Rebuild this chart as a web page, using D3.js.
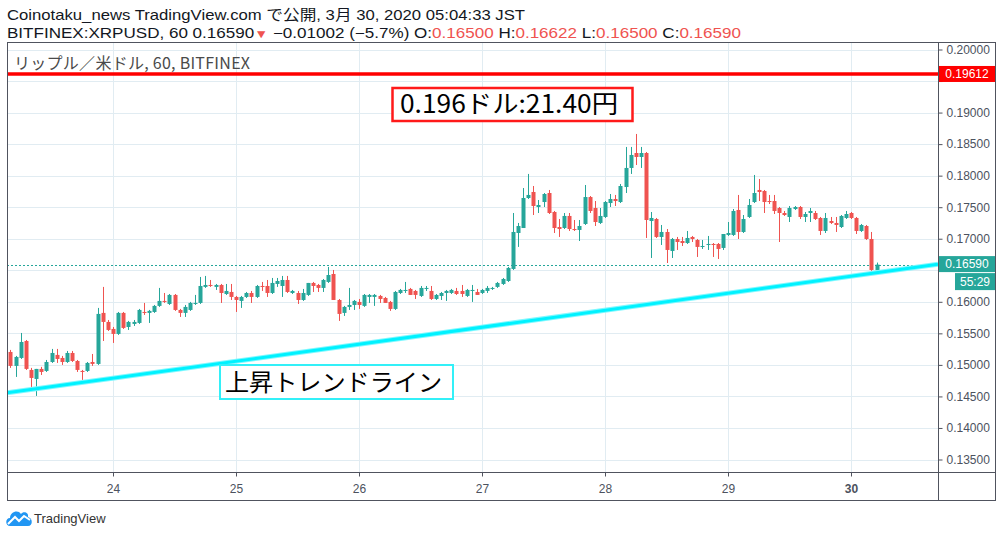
<!DOCTYPE html>
<html><head><meta charset="utf-8">
<script src="https://cdn.jsdelivr.net/npm/d3@7"></script>
<style>body{margin:0;background:#fff}svg{display:block}</style>
</head><body>
<svg id="c" width="1002" height="537"></svg>
<script>
// ---- DATA ----
const startTime = Date.UTC(2020, 2, 23, 4); // first hourly candle (JST shown as UTC)
const hour = 3600000;
const open = [0.15205,0.14984,0.15110,0.15379,0.14920,0.14777,0.14936,0.14904,0.15046,0.15158,
0.15110,0.15046,0.15189,0.15062,0.14904,0.14904,0.15046,0.15015,0.15824,0.15681,
0.15570,0.15491,0.15824,0.15601,0.15649,0.15665,0.15839,0.15824,0.15839,0.15935,
0.16014,0.15966,0.16109,0.15871,0.15824,0.15871,0.15966,0.15982,0.16236,0.16267,
0.16236,0.16267,0.16124,0.16156,0.16077,0.16014,0.16077,0.16140,0.16077,0.16251,
0.16251,0.16140,0.16283,0.16251,0.16346,0.16140,0.16140,0.16029,0.16109,0.16299,
0.16267,0.16220,0.16315,0.16441,0.16029,0.15824,0.15919,0.15950,0.15998,0.15935,
0.16077,0.16077,0.16093,0.16061,0.15998,0.15887,0.16140,0.16172,0.16204,0.16172,
0.16093,0.16204,0.16172,0.16045,0.16093,0.16140,0.16140,0.16172,0.16172,0.16093,
0.16172,0.16156,0.16140,0.16172,0.16204,0.16236,0.16283,0.16330,0.16521,0.17091,
0.17170,0.17646,0.17741,0.17503,0.17582,0.17725,0.17424,0.17186,0.17170,0.17361,
0.17154,0.17139,0.17234,0.17661,0.17487,0.17250,0.17345,0.17566,0.17630,0.17582,
0.17820,0.18122,0.18359,0.18296,0.18359,0.17281,0.17313,0.17028,0.17107,0.16806,
0.16996,0.16964,0.16932,0.17028,0.16980,0.16870,0.16901,0.16917,0.16917,0.16854,
0.17060,0.17060,0.17456,0.17107,0.17345,0.17582,0.17773,0.17757,0.17598,0.17598,
0.17487,0.17408,0.17345,0.17471,0.17503,0.17345,0.17408,0.17408,0.17329,0.17123,
0.17281,0.17250,0.17186,0.17329,0.17408,0.17329,0.17123,0.17202,0.16996,0.16500];
const high = [0.15237,0.15142,0.15506,0.15395,0.14952,0.14936,0.14968,0.15078,0.15253,0.15253,
0.15142,0.15221,0.15221,0.15078,0.14920,0.15046,0.15173,0.15903,0.16236,0.15712,
0.15601,0.15839,0.15839,0.15697,0.15712,0.15887,0.15982,0.15871,0.15950,0.16220,
0.16140,0.16124,0.16124,0.15887,0.15950,0.15998,0.16109,0.16394,0.16410,0.16346,
0.16283,0.16283,0.16283,0.16283,0.16093,0.16093,0.16156,0.16172,0.16267,0.16315,
0.16346,0.16378,0.16378,0.16410,0.16410,0.16188,0.16172,0.16204,0.16299,0.16315,
0.16283,0.16362,0.16553,0.16505,0.16045,0.15935,0.16220,0.16029,0.16045,0.16124,
0.16124,0.16124,0.16109,0.16077,0.16014,0.16172,0.16204,0.16315,0.16220,0.16188,
0.16251,0.16251,0.16251,0.16124,0.16156,0.16188,0.16204,0.16220,0.16267,0.16204,
0.16267,0.16204,0.16204,0.16251,0.16236,0.16315,0.16378,0.16553,0.17408,0.17250,
0.17804,0.18027,0.17836,0.17614,0.17725,0.17773,0.17440,0.17313,0.17408,0.17408,
0.17297,0.17297,0.17852,0.17677,0.17598,0.17487,0.17598,0.17709,0.17694,0.17868,
0.18455,0.18455,0.18661,0.18455,0.18375,0.17424,0.17329,0.17218,0.17154,0.17012,
0.17028,0.17028,0.17123,0.17044,0.16996,0.16980,0.17044,0.16932,0.16932,0.16980,
0.17265,0.17471,0.17694,0.17376,0.17630,0.18011,0.17947,0.17773,0.17694,0.17694,
0.17503,0.17440,0.17519,0.17519,0.17519,0.17424,0.17487,0.17440,0.17345,0.17408,
0.17345,0.17345,0.17376,0.17440,0.17424,0.17345,0.17234,0.17218,0.17107,0.16622];
const low = [0.14952,0.14809,0.15094,0.14920,0.14650,0.14508,0.14840,0.14888,0.15031,0.15031,
0.14999,0.15031,0.15046,0.14888,0.14761,0.14888,0.14984,0.14999,0.15379,0.15538,
0.15348,0.15475,0.15570,0.15554,0.15617,0.15649,0.15792,0.15665,0.15824,0.15919,
0.15982,0.15950,0.15856,0.15760,0.15760,0.15856,0.15950,0.15966,0.16220,0.16236,
0.16188,0.15982,0.16109,0.16029,0.15839,0.15903,0.16061,0.15982,0.16061,0.16172,
0.16077,0.16124,0.16236,0.16077,0.16140,0.16124,0.15966,0.16014,0.16093,0.16156,
0.16156,0.16156,0.16299,0.16029,0.15697,0.15776,0.15871,0.15871,0.15887,0.15919,
0.15982,0.15935,0.15982,0.15982,0.15856,0.15871,0.16124,0.16140,0.16109,0.16045,
0.16077,0.16172,0.16029,0.16029,0.16029,0.16014,0.16124,0.16109,0.16077,0.16077,
0.15998,0.16109,0.16124,0.16140,0.16188,0.16220,0.16267,0.16315,0.16505,0.16870,
0.17170,0.17630,0.17376,0.17408,0.17503,0.17392,0.17091,0.17028,0.17154,0.17123,
0.17123,0.16964,0.17218,0.17408,0.17202,0.17234,0.17329,0.17503,0.17519,0.17566,
0.17725,0.18027,0.18169,0.18122,0.17012,0.16695,0.17012,0.16901,0.16615,0.16695,
0.16822,0.16885,0.16917,0.16948,0.16711,0.16838,0.16822,0.16711,0.16679,0.16822,
0.17044,0.17044,0.16996,0.17091,0.17329,0.17566,0.17598,0.17408,0.17550,0.17392,
0.16948,0.17361,0.17265,0.17456,0.17313,0.17265,0.17265,0.17297,0.17060,0.17091,
0.17234,0.17107,0.17170,0.17313,0.17313,0.17075,0.17107,0.16980,0.16490,0.16500];
const close = [0.14984,0.15126,0.15363,0.14936,0.14793,0.14936,0.14888,0.15046,0.15189,0.15094,
0.15046,0.15189,0.15062,0.14920,0.14888,0.15031,0.15015,0.15808,0.15681,0.15554,
0.15491,0.15824,0.15586,0.15681,0.15681,0.15871,0.15824,0.15856,0.15935,0.16014,
0.15998,0.16109,0.15871,0.15824,0.15919,0.15982,0.15982,0.16251,0.16267,0.16251,
0.16267,0.16140,0.16172,0.16077,0.16029,0.16077,0.16140,0.16077,0.16251,0.16236,
0.16140,0.16299,0.16330,0.16346,0.16156,0.16172,0.16029,0.16140,0.16299,0.16251,
0.16220,0.16346,0.16425,0.16029,0.15808,0.15919,0.15950,0.16014,0.15950,0.16109,
0.16109,0.16109,0.16045,0.15982,0.15887,0.16156,0.16188,0.16188,0.16109,0.16109,
0.16220,0.16220,0.16045,0.16109,0.16140,0.16172,0.16188,0.16124,0.16124,0.16188,
0.16188,0.16109,0.16188,0.16220,0.16220,0.16299,0.16362,0.16537,0.17107,0.17202,
0.17646,0.17694,0.17519,0.17535,0.17709,0.17408,0.17170,0.17154,0.17361,0.17154,
0.17139,0.17202,0.17661,0.17440,0.17265,0.17361,0.17582,0.17630,0.17598,0.17836,
0.18122,0.18328,0.18296,0.18359,0.17297,0.17329,0.17028,0.17107,0.16822,0.16996,
0.16948,0.16932,0.17012,0.16996,0.16870,0.16885,0.16917,0.16901,0.16838,0.17075,
0.17091,0.17440,0.17107,0.17313,0.17535,0.17725,0.17741,0.17582,0.17582,0.17440,
0.17408,0.17376,0.17487,0.17503,0.17345,0.17392,0.17440,0.17313,0.17123,0.17329,
0.17250,0.17218,0.17361,0.17392,0.17329,0.17123,0.17218,0.16996,0.16505,0.16590];
const dayTicks = [24, 25, 26, 27, 28, 29, 30];
const priceTicks = [0.135,0.140,0.145,0.150,0.155,0.160,0.165,0.170,0.175,0.180,0.185,0.190,0.195,0.200];
const hiddenTicks = [0.165, 0.195]; // labels covered by the price tags in the reference
const lastPrice = 0.16590;
const resistance = 0.19612;
const trendTimes = [Date.UTC(2020,2,23,4), Date.UTC(2020,2,30,12)];
const trendPrices = [0.14565, 0.16539];
const countdown = "55:29";

// ---- LAYOUT ----
const L = 7, R = 938, T = 42, B = 472, AX = 995, BB = 500;
const up = "#26a69a", down = "#ef5350", grid = "#e1ecf2", frame = "#50535e", txt = "#4c525e";
const svg = d3.select("#c");
const x = d3.scaleUtc().domain([Date.UTC(2020,2,24), Date.UTC(2020,2,30)]).range([113, 851]);
const y = d3.scaleLinear().domain([0.135, 0.2]).range([459.5, 49.5]);

svg.append("defs").append("clipPath").attr("id","pane")
  .append("rect").attr("x",L).attr("y",T).attr("width",R-L).attr("height",B-T);

// grid
const g = svg.append("g").attr("clip-path","url(#pane)");
g.selectAll(".hg").data(priceTicks).join("line")
  .attr("x1",L).attr("x2",R).attr("y1",d=>Math.round(y(d))+0.5).attr("y2",d=>Math.round(y(d))+0.5)
  .attr("stroke",grid);
g.selectAll(".vg").data(dayTicks).join("line")
  .attr("y1",T).attr("y2",B).attr("x1",d=>Math.round(x(Date.UTC(2020,2,d)))+0.5).attr("x2",d=>Math.round(x(Date.UTC(2020,2,d)))+0.5)
  .attr("stroke",grid);

// legend
svg.append("text").attr("x",14).attr("y",69).attr("font-family","'Noto Sans CJK JP','Noto Sans',sans-serif")
  .attr("font-size",16).attr("fill","#4a4a4a").attr("textLength",236).attr("lengthAdjust","spacing")
  .text("リップル／米ドル, 60, BITFINEX");

// current price dotted
g.append("line").attr("x1",L).attr("x2",R).attr("y1",Math.round(y(lastPrice))+0.5).attr("y2",Math.round(y(lastPrice))+0.5)
  .attr("stroke",up).attr("stroke-dasharray","2,2");

// candles
const candles = open.map((o,i)=>({t:new Date(startTime+i*hour),o,h:high[i],l:low[i],c:close[i]}));
const cg = g.append("g");
cg.selectAll(".w").data(candles).join("line")
  .attr("x1",d=>Math.round(x(d.t))+0.5).attr("x2",d=>Math.round(x(d.t))+0.5)
  .attr("y1",d=>y(d.h)).attr("y2",d=>y(d.l))
  .attr("stroke",d=>d.c>=d.o?up:down).attr("stroke-width",1);
cg.selectAll(".b").data(candles).join("rect")
  .attr("x",d=>Math.round(x(d.t))-1.5).attr("width",4)
  .attr("y",d=>Math.min(y(d.o),y(d.c)))
  .attr("height",d=>Math.max(1,Math.abs(y(d.o)-y(d.c))))
  .attr("fill",d=>d.c>=d.o?up:down);

// resistance line
g.append("line").attr("x1",L).attr("x2",R).attr("y1",y(resistance)).attr("y2",y(resistance))
  .attr("stroke","#ff0000").attr("stroke-width",3.5);

// trend line (extended)
const tx0 = x(trendTimes[0]), ty0 = y(trendPrices[0]), tx1 = x(trendTimes[1]), ty1 = y(trendPrices[1]);
const slope = (ty1-ty0)/(tx1-tx0);
g.append("line").attr("x1",L).attr("x2",R).attr("y1",ty0+slope*(L-tx0)).attr("y2",ty0+slope*(R-tx0))
  .attr("stroke","#7ff8ff").attr("stroke-width",5);
g.append("line").attr("x1",L).attr("x2",R).attr("y1",ty0+slope*(L-tx0)).attr("y2",ty0+slope*(R-tx0))
  .attr("stroke","#00f2ff").attr("stroke-width",3);

// annotation boxes
const jp = "'Noto Sans CJK JP','Noto Sans',sans-serif";
svg.append("rect").attr("x",392.5).attr("y",88).attr("width",240).attr("height",33)
  .attr("fill","#fff").attr("stroke","#ff1a1a").attr("stroke-width",2.5);
svg.append("text").attr("x",400).attr("y",113).attr("font-family",jp)
  .attr("font-size",25).attr("fill","#000").attr("textLength",218).attr("lengthAdjust","spacingAndGlyphs")
  .text("0.196ドル:21.40円");
svg.append("rect").attr("x",220).attr("y",365).attr("width",233).attr("height",34)
  .attr("fill","#fff").attr("stroke","#33f0f8").attr("stroke-width",2);
svg.append("text").attr("x",225).attr("y",391).attr("font-family",jp)
  .attr("font-size",24).attr("fill","#000").attr("textLength",217).attr("lengthAdjust","spacingAndGlyphs")
  .text("上昇トレンドライン");

// frame
const fr = svg.append("g").attr("stroke",frame).attr("fill","none");
fr.append("rect").attr("x",L+0.5).attr("y",T+0.5).attr("width",AX-L).attr("height",BB-T);
fr.append("line").attr("x1",L).attr("x2",AX).attr("y1",B+0.5).attr("y2",B+0.5);
fr.append("line").attr("x1",R+0.5).attr("x2",R+0.5).attr("y1",T).attr("y2",BB);

// price axis
const ya = svg.append("g").attr("transform",`translate(${R+0.5},0)`)
  .call(d3.axisRight(y).tickValues(priceTicks)
    .tickFormat(d=>hiddenTicks.some(h=>Math.abs(d-h)<1e-9)?"":d3.format(".5f")(d)).tickSize(4).tickPadding(4));
ya.select(".domain").remove();
ya.selectAll("line").attr("stroke",frame);
ya.selectAll("text").attr("fill",txt).attr("font-family","'Liberation Sans',Arial,sans-serif").attr("font-size",12);

// time axis
const xa = svg.append("g").attr("transform",`translate(0,${B+0.5})`)
  .call(d3.axisBottom(x).tickValues(dayTicks.map(d=>new Date(Date.UTC(2020,2,d)))).tickFormat(d3.utcFormat("%-d")).tickSize(4).tickPadding(8));
xa.select(".domain").remove();
xa.selectAll("line").attr("stroke",frame);
xa.selectAll("text").attr("fill",txt).attr("font-family","'Liberation Sans',Arial,sans-serif").attr("font-size",12)
  .attr("font-weight",(d,i)=>i===dayTicks.length-1?"bold":"normal");

// price labels
function tag(fill, label, y0, h, x0) {
  svg.append("rect").attr("x",x0).attr("y",y0).attr("width",AX-x0).attr("height",h).attr("fill",fill);
  svg.append("text").attr("x",x0+(AX-x0)/2).attr("y",y0+h/2).attr("dy","0.35em").attr("text-anchor","middle")
    .attr("fill","#fff").attr("font-family","'Liberation Sans',Arial,sans-serif").attr("font-size",12).text(label);
}
tag("#ff0000",d3.format(".5f")(resistance), y(resistance)-8, 16, R+1);
tag(up,d3.format(".5f")(lastPrice), y(lastPrice)-8.5, 16, R+1);
tag(up,countdown, y(lastPrice)+8.5, 17, 955);

// header
const hf = "'Liberation Sans','Noto Sans CJK JP',sans-serif";
svg.append("text").attr("x",7).attr("y",20).attr("font-family",hf).attr("font-size",14.5).attr("fill","#131722")
  .attr("textLength",518).attr("lengthAdjust","spacingAndGlyphs")
  .text("Coinotaku_news TradingView.com で公開, 3月 30, 2020 05:04:33 JST");
const h2 = svg.append("text").attr("x",7).attr("y",37.5).attr("font-family",hf).attr("font-size",14.5).attr("fill","#131722")
  .attr("textLength",734).attr("lengthAdjust","spacingAndGlyphs");
const red = "#ef5350";
[["BITFINEX:XRPUSD, 60 0.16590",null],["▼",red],[" −0.01002 (−5.7%) O:",null],["0.16500",red],[" H:",null],["0.16622",red],
 [" L:",null],["0.16500",red],[" C:",null],["0.16590",red]].forEach(([s,c])=>{
  const t = h2.append("tspan").text(s); if(c) t.attr("fill",c); if(s==="▼") t.attr("font-size",12);
});

// logo
const lg = svg.append("g");
lg.append("path").attr("d","M10,526 C5,526 5,518 10,518 C10,512 18,509 21,514 C23,511 29,512 28,517 C33,518 33,526 28,526 Z").attr("fill","#2196f3");
lg.append("polyline").attr("points","8,524 15,517 19,521 24,516 30,520").attr("fill","none").attr("stroke","#fff").attr("stroke-width",2);
svg.append("text").attr("x",34).attr("y",523).attr("font-family","'Liberation Sans',Arial,sans-serif").attr("font-size",13).attr("fill","#333").text("TradingView");
</script>
</body></html>
